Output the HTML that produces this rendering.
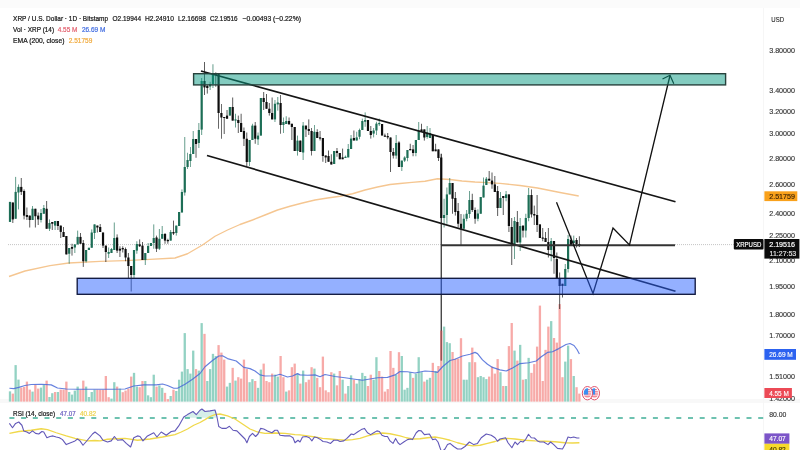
<!DOCTYPE html>
<html lang="en"><head><meta charset="utf-8"><title>XRP / U.S. Dollar chart</title>
<style>
html,body{margin:0;padding:0;background:#fff;}
body{width:800px;height:450px;overflow:hidden;}
svg{display:block;filter:blur(0.3px);}
text{font-family:"Liberation Sans",sans-serif;}
</style></head><body>
<svg width="800" height="450" viewBox="0 0 800 450">
<rect x="0" y="0" width="800" height="450" fill="#ffffff"/>
<rect x="0" y="0" width="800" height="8" fill="#fbfbfb"/>
<rect x="0" y="399" width="800" height="4" fill="#f8f8f8"/>
<rect x="763" y="8" width="1" height="442" fill="#f6f6f6"/>
<line x1="8" y1="244.6" x2="441" y2="244.6" stroke="#bdbdbd" stroke-width="0.9" stroke-dasharray="1 1"/>
<line x1="675" y1="244.6" x2="734" y2="244.6" stroke="#bdbdbd" stroke-width="0.9" stroke-dasharray="1 1"/>
<g id="vol">
<rect x="8.85" y="391.35" width="2.3" height="10.25" fill="#93d2c3"/>
<rect x="11.67" y="393.6" width="2.3" height="8" fill="#f7aaa8"/>
<rect x="14.49" y="365.1" width="2.3" height="36.5" fill="#93d2c3"/>
<rect x="17.31" y="379.6" width="2.3" height="22" fill="#93d2c3"/>
<rect x="20.12" y="387.6" width="2.3" height="14" fill="#f7aaa8"/>
<rect x="22.94" y="387" width="2.3" height="14.6" fill="#f7aaa8"/>
<rect x="25.76" y="381.6" width="2.3" height="20" fill="#f7aaa8"/>
<rect x="28.58" y="389.6" width="2.3" height="12" fill="#f7aaa8"/>
<rect x="31.4" y="391.6" width="2.3" height="10" fill="#93d2c3"/>
<rect x="34.22" y="384.6" width="2.3" height="17" fill="#f7aaa8"/>
<rect x="37.04" y="388.6" width="2.3" height="13" fill="#f7aaa8"/>
<rect x="39.86" y="387.6" width="2.3" height="14" fill="#93d2c3"/>
<rect x="42.67" y="384.6" width="2.3" height="17" fill="#93d2c3"/>
<rect x="45.49" y="380.6" width="2.3" height="21" fill="#f7aaa8"/>
<rect x="48.31" y="397" width="2.3" height="4.6" fill="#93d2c3"/>
<rect x="51.13" y="393.2" width="2.3" height="8.4" fill="#93d2c3"/>
<rect x="53.95" y="392" width="2.3" height="9.6" fill="#f7aaa8"/>
<rect x="56.77" y="392" width="2.3" height="9.6" fill="#93d2c3"/>
<rect x="59.59" y="389.6" width="2.3" height="12" fill="#f7aaa8"/>
<rect x="62.41" y="389.6" width="2.3" height="12" fill="#f7aaa8"/>
<rect x="65.22" y="381.6" width="2.3" height="20" fill="#f7aaa8"/>
<rect x="68.04" y="392" width="2.3" height="9.6" fill="#93d2c3"/>
<rect x="70.86" y="394.6" width="2.3" height="7" fill="#93d2c3"/>
<rect x="73.68" y="390.6" width="2.3" height="11" fill="#93d2c3"/>
<rect x="76.5" y="386.6" width="2.3" height="15" fill="#93d2c3"/>
<rect x="79.32" y="389.6" width="2.3" height="12" fill="#f7aaa8"/>
<rect x="82.14" y="380.6" width="2.3" height="21" fill="#f7aaa8"/>
<rect x="84.95" y="386.6" width="2.3" height="15" fill="#93d2c3"/>
<rect x="87.77" y="397" width="2.3" height="4.6" fill="#93d2c3"/>
<rect x="90.59" y="392" width="2.3" height="9.6" fill="#93d2c3"/>
<rect x="93.41" y="389.6" width="2.3" height="12" fill="#93d2c3"/>
<rect x="96.23" y="389.6" width="2.3" height="12" fill="#f7aaa8"/>
<rect x="99.05" y="389.7" width="2.3" height="11.9" fill="#f7aaa8"/>
<rect x="101.87" y="389.6" width="2.3" height="12" fill="#f7aaa8"/>
<rect x="104.69" y="376" width="2.3" height="25.6" fill="#f7aaa8"/>
<rect x="107.5" y="397.2" width="2.3" height="4.4" fill="#f7aaa8"/>
<rect x="110.32" y="398.6" width="2.3" height="3" fill="#93d2c3"/>
<rect x="113.14" y="382.2" width="2.3" height="19.4" fill="#93d2c3"/>
<rect x="115.96" y="386.6" width="2.3" height="15" fill="#f7aaa8"/>
<rect x="118.78" y="388.6" width="2.3" height="13" fill="#93d2c3"/>
<rect x="121.6" y="392.2" width="2.3" height="9.4" fill="#f7aaa8"/>
<rect x="124.42" y="390.6" width="2.3" height="11" fill="#f7aaa8"/>
<rect x="127.24" y="388.6" width="2.3" height="13" fill="#f7aaa8"/>
<rect x="130.05" y="376.6" width="2.3" height="25" fill="#f7aaa8"/>
<rect x="132.87" y="372.85" width="2.3" height="28.75" fill="#93d2c3"/>
<rect x="135.69" y="386.6" width="2.3" height="15" fill="#93d2c3"/>
<rect x="138.51" y="387.2" width="2.3" height="14.4" fill="#f7aaa8"/>
<rect x="141.33" y="381" width="2.3" height="20.6" fill="#f7aaa8"/>
<rect x="144.15" y="381" width="2.3" height="20.6" fill="#93d2c3"/>
<rect x="146.97" y="395.35" width="2.3" height="6.25" fill="#93d2c3"/>
<rect x="149.78" y="397.2" width="2.3" height="4.4" fill="#93d2c3"/>
<rect x="152.6" y="374.7" width="2.3" height="26.9" fill="#93d2c3"/>
<rect x="155.42" y="386.6" width="2.3" height="15" fill="#f7aaa8"/>
<rect x="158.24" y="385.35" width="2.3" height="16.25" fill="#93d2c3"/>
<rect x="161.06" y="387.85" width="2.3" height="13.75" fill="#93d2c3"/>
<rect x="163.88" y="392.85" width="2.3" height="8.75" fill="#f7aaa8"/>
<rect x="166.7" y="399.1" width="2.3" height="2.5" fill="#f7aaa8"/>
<rect x="169.52" y="396" width="2.3" height="5.6" fill="#93d2c3"/>
<rect x="172.33" y="389.7" width="2.3" height="11.9" fill="#f7aaa8"/>
<rect x="175.15" y="391" width="2.3" height="10.6" fill="#93d2c3"/>
<rect x="177.97" y="379.7" width="2.3" height="21.9" fill="#93d2c3"/>
<rect x="180.79" y="371.6" width="2.3" height="30" fill="#93d2c3"/>
<rect x="183.61" y="333.1" width="2.3" height="68.5" fill="#93d2c3"/>
<rect x="186.43" y="369.1" width="2.3" height="32.5" fill="#93d2c3"/>
<rect x="189.25" y="373.6" width="2.3" height="28" fill="#93d2c3"/>
<rect x="192.07" y="350.6" width="2.3" height="51" fill="#93d2c3"/>
<rect x="194.88" y="369.1" width="2.3" height="32.5" fill="#f7aaa8"/>
<rect x="197.7" y="370.6" width="2.3" height="31" fill="#93d2c3"/>
<rect x="200.52" y="323.1" width="2.3" height="78.5" fill="#93d2c3"/>
<rect x="203.34" y="333.85" width="2.3" height="67.75" fill="#f7aaa8"/>
<rect x="206.16" y="381" width="2.3" height="20.6" fill="#93d2c3"/>
<rect x="208.98" y="369.1" width="2.3" height="32.5" fill="#93d2c3"/>
<rect x="211.8" y="353.85" width="2.3" height="47.75" fill="#93d2c3"/>
<rect x="214.62" y="356.1" width="2.3" height="45.5" fill="#93d2c3"/>
<rect x="217.43" y="345.1" width="2.3" height="56.5" fill="#f7aaa8"/>
<rect x="220.25" y="352.6" width="2.3" height="49" fill="#f7aaa8"/>
<rect x="223.07" y="359.6" width="2.3" height="42" fill="#f7aaa8"/>
<rect x="225.89" y="386.6" width="2.3" height="15" fill="#93d2c3"/>
<rect x="228.71" y="382.85" width="2.3" height="18.75" fill="#93d2c3"/>
<rect x="231.53" y="367.85" width="2.3" height="33.75" fill="#f7aaa8"/>
<rect x="234.35" y="380.6" width="2.3" height="21" fill="#93d2c3"/>
<rect x="237.16" y="377.2" width="2.3" height="24.4" fill="#f7aaa8"/>
<rect x="239.98" y="378.6" width="2.3" height="23" fill="#f7aaa8"/>
<rect x="242.8" y="359.6" width="2.3" height="42" fill="#f7aaa8"/>
<rect x="245.62" y="369.1" width="2.3" height="32.5" fill="#f7aaa8"/>
<rect x="248.44" y="382.2" width="2.3" height="19.4" fill="#93d2c3"/>
<rect x="251.26" y="379.1" width="2.3" height="22.5" fill="#93d2c3"/>
<rect x="254.08" y="381" width="2.3" height="20.6" fill="#f7aaa8"/>
<rect x="256.9" y="387.85" width="2.3" height="13.75" fill="#93d2c3"/>
<rect x="259.71" y="369.6" width="2.3" height="32" fill="#93d2c3"/>
<rect x="262.53" y="363.6" width="2.3" height="38" fill="#f7aaa8"/>
<rect x="265.35" y="381" width="2.3" height="20.6" fill="#f7aaa8"/>
<rect x="268.17" y="382.2" width="2.3" height="19.4" fill="#f7aaa8"/>
<rect x="270.99" y="373.6" width="2.3" height="28" fill="#f7aaa8"/>
<rect x="273.81" y="374.6" width="2.3" height="27" fill="#93d2c3"/>
<rect x="276.63" y="376.6" width="2.3" height="25" fill="#93d2c3"/>
<rect x="279.45" y="356" width="2.3" height="45.6" fill="#f7aaa8"/>
<rect x="282.26" y="377.2" width="2.3" height="24.4" fill="#f7aaa8"/>
<rect x="285.08" y="391.6" width="2.3" height="10" fill="#93d2c3"/>
<rect x="287.9" y="390.35" width="2.3" height="11.25" fill="#f7aaa8"/>
<rect x="290.72" y="367.2" width="2.3" height="34.4" fill="#f7aaa8"/>
<rect x="293.54" y="363.6" width="2.3" height="38" fill="#f7aaa8"/>
<rect x="296.36" y="373.6" width="2.3" height="28" fill="#93d2c3"/>
<rect x="299.18" y="383.6" width="2.3" height="18" fill="#f7aaa8"/>
<rect x="301.99" y="370.6" width="2.3" height="31" fill="#93d2c3"/>
<rect x="304.81" y="382.2" width="2.3" height="19.4" fill="#f7aaa8"/>
<rect x="307.63" y="379.7" width="2.3" height="21.9" fill="#f7aaa8"/>
<rect x="310.45" y="367.2" width="2.3" height="34.4" fill="#f7aaa8"/>
<rect x="313.27" y="368.6" width="2.3" height="33" fill="#93d2c3"/>
<rect x="316.09" y="377.85" width="2.3" height="23.75" fill="#f7aaa8"/>
<rect x="318.91" y="387.2" width="2.3" height="14.4" fill="#f7aaa8"/>
<rect x="321.73" y="356.6" width="2.3" height="45" fill="#f7aaa8"/>
<rect x="324.54" y="390.35" width="2.3" height="11.25" fill="#f7aaa8"/>
<rect x="327.36" y="392.2" width="2.3" height="9.4" fill="#f7aaa8"/>
<rect x="330.18" y="372.2" width="2.3" height="29.4" fill="#f7aaa8"/>
<rect x="333" y="373.6" width="2.3" height="28" fill="#93d2c3"/>
<rect x="335.82" y="385.35" width="2.3" height="16.25" fill="#f7aaa8"/>
<rect x="338.64" y="371" width="2.3" height="30.6" fill="#f7aaa8"/>
<rect x="341.46" y="379.7" width="2.3" height="21.9" fill="#93d2c3"/>
<rect x="344.28" y="393.6" width="2.3" height="8" fill="#f7aaa8"/>
<rect x="347.09" y="386" width="2.3" height="15.6" fill="#93d2c3"/>
<rect x="349.91" y="375.35" width="2.3" height="26.25" fill="#93d2c3"/>
<rect x="352.73" y="379.7" width="2.3" height="21.9" fill="#f7aaa8"/>
<rect x="355.55" y="383.6" width="2.3" height="18" fill="#93d2c3"/>
<rect x="358.37" y="379.1" width="2.3" height="22.5" fill="#93d2c3"/>
<rect x="361.19" y="372.85" width="2.3" height="28.75" fill="#93d2c3"/>
<rect x="364.01" y="376" width="2.3" height="25.6" fill="#93d2c3"/>
<rect x="366.82" y="386" width="2.3" height="15.6" fill="#f7aaa8"/>
<rect x="369.64" y="374.7" width="2.3" height="26.9" fill="#f7aaa8"/>
<rect x="372.46" y="379.7" width="2.3" height="21.9" fill="#93d2c3"/>
<rect x="375.28" y="357.2" width="2.3" height="44.4" fill="#93d2c3"/>
<rect x="378.1" y="371" width="2.3" height="30.6" fill="#f7aaa8"/>
<rect x="380.92" y="376.6" width="2.3" height="25" fill="#f7aaa8"/>
<rect x="383.74" y="391.6" width="2.3" height="10" fill="#f7aaa8"/>
<rect x="386.56" y="389.1" width="2.3" height="12.5" fill="#f7aaa8"/>
<rect x="389.37" y="351" width="2.3" height="50.6" fill="#f7aaa8"/>
<rect x="392.19" y="367.85" width="2.3" height="33.75" fill="#f7aaa8"/>
<rect x="395.01" y="374.7" width="2.3" height="26.9" fill="#93d2c3"/>
<rect x="397.83" y="352.2" width="2.3" height="49.4" fill="#f7aaa8"/>
<rect x="400.65" y="356" width="2.3" height="45.6" fill="#93d2c3"/>
<rect x="403.47" y="389.7" width="2.3" height="11.9" fill="#93d2c3"/>
<rect x="406.29" y="387.85" width="2.3" height="13.75" fill="#93d2c3"/>
<rect x="409.11" y="372.2" width="2.3" height="29.4" fill="#93d2c3"/>
<rect x="411.92" y="377.85" width="2.3" height="23.75" fill="#f7aaa8"/>
<rect x="414.74" y="373.6" width="2.3" height="28" fill="#93d2c3"/>
<rect x="417.56" y="357.2" width="2.3" height="44.4" fill="#93d2c3"/>
<rect x="420.38" y="372.2" width="2.3" height="29.4" fill="#93d2c3"/>
<rect x="423.2" y="381.6" width="2.3" height="20" fill="#f7aaa8"/>
<rect x="426.02" y="379.7" width="2.3" height="21.9" fill="#93d2c3"/>
<rect x="428.84" y="377.85" width="2.3" height="23.75" fill="#93d2c3"/>
<rect x="431.66" y="362.85" width="2.3" height="38.75" fill="#f7aaa8"/>
<rect x="434.47" y="371" width="2.3" height="30.6" fill="#93d2c3"/>
<rect x="437.29" y="366" width="2.3" height="35.6" fill="#f7aaa8"/>
<rect x="440.11" y="330.6" width="2.3" height="71" fill="#f7aaa8"/>
<rect x="442.93" y="326.6" width="2.3" height="75" fill="#93d2c3"/>
<rect x="445.75" y="342.1" width="2.3" height="59.5" fill="#93d2c3"/>
<rect x="448.57" y="343.2" width="2.3" height="58.4" fill="#93d2c3"/>
<rect x="451.39" y="352" width="2.3" height="49.6" fill="#f7aaa8"/>
<rect x="454.2" y="358.6" width="2.3" height="43" fill="#f7aaa8"/>
<rect x="457.02" y="358.6" width="2.3" height="43" fill="#f7aaa8"/>
<rect x="459.84" y="338.2" width="2.3" height="63.4" fill="#f7aaa8"/>
<rect x="462.66" y="379.7" width="2.3" height="21.9" fill="#93d2c3"/>
<rect x="465.48" y="379.7" width="2.3" height="21.9" fill="#93d2c3"/>
<rect x="468.3" y="362.2" width="2.3" height="39.4" fill="#93d2c3"/>
<rect x="471.12" y="347.6" width="2.3" height="54" fill="#f7aaa8"/>
<rect x="473.94" y="362.2" width="2.3" height="39.4" fill="#f7aaa8"/>
<rect x="476.75" y="377.2" width="2.3" height="24.4" fill="#93d2c3"/>
<rect x="479.57" y="376" width="2.3" height="25.6" fill="#93d2c3"/>
<rect x="482.39" y="377.2" width="2.3" height="24.4" fill="#93d2c3"/>
<rect x="485.21" y="379.1" width="2.3" height="22.5" fill="#93d2c3"/>
<rect x="488.03" y="376.6" width="2.3" height="25" fill="#f7aaa8"/>
<rect x="490.85" y="366.6" width="2.3" height="35" fill="#f7aaa8"/>
<rect x="493.67" y="373.6" width="2.3" height="28" fill="#f7aaa8"/>
<rect x="496.49" y="359.1" width="2.3" height="42.5" fill="#f7aaa8"/>
<rect x="499.3" y="372.2" width="2.3" height="29.4" fill="#93d2c3"/>
<rect x="502.12" y="386" width="2.3" height="15.6" fill="#f7aaa8"/>
<rect x="504.94" y="386" width="2.3" height="15.6" fill="#93d2c3"/>
<rect x="507.76" y="346.1" width="2.3" height="55.5" fill="#f7aaa8"/>
<rect x="510.58" y="323" width="2.3" height="78.6" fill="#f7aaa8"/>
<rect x="513.4" y="350.6" width="2.3" height="51" fill="#93d2c3"/>
<rect x="516.22" y="360.6" width="2.3" height="41" fill="#f7aaa8"/>
<rect x="519.03" y="344.85" width="2.3" height="56.75" fill="#93d2c3"/>
<rect x="521.85" y="379.7" width="2.3" height="21.9" fill="#f7aaa8"/>
<rect x="524.67" y="379.1" width="2.3" height="22.5" fill="#93d2c3"/>
<rect x="527.49" y="357.85" width="2.3" height="43.75" fill="#93d2c3"/>
<rect x="530.31" y="372.85" width="2.3" height="28.75" fill="#f7aaa8"/>
<rect x="533.13" y="364.1" width="2.3" height="37.5" fill="#f7aaa8"/>
<rect x="535.95" y="346.6" width="2.3" height="55" fill="#f7aaa8"/>
<rect x="538.77" y="305.6" width="2.3" height="96" fill="#f7aaa8"/>
<rect x="541.58" y="381" width="2.3" height="20.6" fill="#f7aaa8"/>
<rect x="544.4" y="349.85" width="2.3" height="51.75" fill="#f7aaa8"/>
<rect x="547.22" y="326.6" width="2.3" height="75" fill="#f7aaa8"/>
<rect x="550.04" y="321.1" width="2.3" height="80.5" fill="#93d2c3"/>
<rect x="552.86" y="338" width="2.3" height="63.6" fill="#f7aaa8"/>
<rect x="555.68" y="342.6" width="2.3" height="59" fill="#f7aaa8"/>
<rect x="558.5" y="304.1" width="2.3" height="97.5" fill="#f7aaa8"/>
<rect x="561.32" y="377.2" width="2.3" height="24.4" fill="#f7aaa8"/>
<rect x="564.13" y="361.6" width="2.3" height="40" fill="#93d2c3"/>
<rect x="566.95" y="345.6" width="2.3" height="56" fill="#93d2c3"/>
<rect x="569.77" y="359.1" width="2.3" height="42.5" fill="#f7aaa8"/>
<rect x="572.59" y="376" width="2.3" height="25.6" fill="#93d2c3"/>
<rect x="575.41" y="387.2" width="2.3" height="14.4" fill="#f7aaa8"/>
<rect x="578.23" y="393.6" width="2.3" height="8" fill="#f7aaa8"/>
</g>
<polyline points="9.4,388.25 13.75,388.6 18.75,387.4 25,385.5 31.25,384.5 41.25,384.25 51.25,384.9 57.5,388 66.25,389 77.5,389.25 100,389.25 112.5,389.25 125,389 133.75,386 143.75,384.9 156.25,384.9 162.5,384 167.5,385.5 173.75,388.25 177.5,388.25 185,384.25 192.5,379.25 200,373.5 205,366.75 212.5,360.5 218.75,356 222.5,355.75 227.5,358.6 236.25,361 243.75,367.4 250,368.6 255,371 260,374.9 265,376 275,375.75 280,374.25 287.5,377 292.5,376 297.5,373.6 300,374.9 307.5,375.25 315,374.9 320,376.75 325,374.5 335,376.5 345,377.75 355,379.25 362.5,380.25 370,379 377.5,377.75 387.5,377.4 395,374.9 400,371.5 407.5,371.75 415,373 425,371 432.5,371.5 437.5,372.4 442.5,366.75 450,360.5 455,359.25 462.5,356 470,354.25 475,352.4 477.5,353.6 482.5,359.9 487.5,364.25 492.5,367.4 500,369.9 506.25,371 512.5,368 520,363.6 528.75,362.75 536.25,361 541.25,356.75 547.5,352.4 552.5,351.75 558.75,348.6 562.5,346.5 566,344.5 570,343.5 574,345.5 577,349.5 579.4,354" fill="none" stroke="#4a6ad8" stroke-width="1.2" opacity="0.85" stroke-linejoin="round"/>
<polyline points="9,276.5 25,271 50,265.6 68.75,263 100,261.4 125,260.6 150,259.4 175,258 187.5,253.75 202.5,245 215,236.25 227.5,230 240,224.5 252.5,220 265,215 277.5,210 290,206.25 302.5,203 315,200 327.5,198 340,196.25 352.5,193.75 365,190 377.5,187 390,184.5 400,183.5 412,182.3 425,181.25 437.5,178.75 450,179.5 462,181 475,182 487,182.6 500,183.3 520,185.5 537.5,188 560,192.5 578.75,196" fill="none" stroke="#f5c691" stroke-width="1.35" stroke-linejoin="round"/>
<g id="candles">
<line x1="10" y1="201.9" x2="10" y2="221.9" stroke="#1d6e56" stroke-width="0.8" opacity="0.85"/>
<rect x="8.9" y="201.9" width="2.2" height="20" fill="#1d6e56"/>
<line x1="12.82" y1="202.5" x2="12.82" y2="223" stroke="#0d0d0d" stroke-width="0.8" opacity="0.85"/>
<rect x="11.72" y="202.5" width="2.2" height="16.9" fill="#0d0d0d"/>
<line x1="15.64" y1="176.9" x2="15.64" y2="218.75" stroke="#1d6e56" stroke-width="0.8" opacity="0.85"/>
<rect x="14.54" y="191.9" width="2.2" height="26.85" fill="#1d6e56"/>
<line x1="18.46" y1="184.4" x2="18.46" y2="209.4" stroke="#1d6e56" stroke-width="0.8" opacity="0.85"/>
<rect x="17.36" y="186.9" width="2.2" height="5.6" fill="#1d6e56"/>
<line x1="21.27" y1="178" x2="21.27" y2="195" stroke="#0d0d0d" stroke-width="0.8" opacity="0.85"/>
<rect x="20.17" y="186.9" width="2.2" height="5" fill="#0d0d0d"/>
<line x1="24.09" y1="189.4" x2="24.09" y2="219.4" stroke="#0d0d0d" stroke-width="0.8" opacity="0.85"/>
<rect x="22.99" y="191" width="2.2" height="24.6" fill="#0d0d0d"/>
<line x1="26.91" y1="207.5" x2="26.91" y2="220" stroke="#0d0d0d" stroke-width="0.8" opacity="0.85"/>
<rect x="25.81" y="215" width="2.2" height="1.9" fill="#0d0d0d"/>
<line x1="29.73" y1="215.6" x2="29.73" y2="227.5" stroke="#0d0d0d" stroke-width="0.8" opacity="0.85"/>
<rect x="28.63" y="215.6" width="2.2" height="4.4" fill="#0d0d0d"/>
<line x1="32.55" y1="206" x2="32.55" y2="220" stroke="#1d6e56" stroke-width="0.8" opacity="0.85"/>
<rect x="31.45" y="208.75" width="2.2" height="11.25" fill="#1d6e56"/>
<line x1="35.37" y1="208.75" x2="35.37" y2="227.5" stroke="#0d0d0d" stroke-width="0.8" opacity="0.85"/>
<rect x="34.27" y="208.75" width="2.2" height="7.5" fill="#0d0d0d"/>
<line x1="38.19" y1="212.5" x2="38.19" y2="225" stroke="#0d0d0d" stroke-width="0.8" opacity="0.85"/>
<rect x="37.09" y="215.6" width="2.2" height="3.8" fill="#0d0d0d"/>
<line x1="41.01" y1="209" x2="41.01" y2="222.5" stroke="#1d6e56" stroke-width="0.8" opacity="0.85"/>
<rect x="39.91" y="213" width="2.2" height="7" fill="#1d6e56"/>
<line x1="43.82" y1="205" x2="43.82" y2="213.75" stroke="#1d6e56" stroke-width="0.8" opacity="0.85"/>
<rect x="42.72" y="208" width="2.2" height="5.75" fill="#1d6e56"/>
<line x1="46.64" y1="201" x2="46.64" y2="228.75" stroke="#0d0d0d" stroke-width="0.8" opacity="0.85"/>
<rect x="45.54" y="208.75" width="2.2" height="20" fill="#0d0d0d"/>
<line x1="49.46" y1="219.4" x2="49.46" y2="231" stroke="#1d6e56" stroke-width="0.8" opacity="0.85"/>
<rect x="48.36" y="223" width="2.2" height="5.75" fill="#1d6e56"/>
<line x1="52.28" y1="222" x2="52.28" y2="230" stroke="#0d0d0d" stroke-width="0.8" opacity="0.85"/>
<rect x="51.18" y="222" width="2.2" height="1.75" fill="#0d0d0d"/>
<line x1="55.1" y1="221" x2="55.1" y2="230" stroke="#1d6e56" stroke-width="0.8" opacity="0.85"/>
<rect x="54" y="221" width="2.2" height="4.6" fill="#1d6e56"/>
<line x1="57.92" y1="221" x2="57.92" y2="230" stroke="#0d0d0d" stroke-width="0.8" opacity="0.85"/>
<rect x="56.82" y="221" width="2.2" height="5" fill="#0d0d0d"/>
<line x1="60.74" y1="225.6" x2="60.74" y2="238" stroke="#0d0d0d" stroke-width="0.8" opacity="0.85"/>
<rect x="59.64" y="225.6" width="2.2" height="6.3" fill="#0d0d0d"/>
<line x1="63.56" y1="227" x2="63.56" y2="237" stroke="#0d0d0d" stroke-width="0.8" opacity="0.85"/>
<rect x="62.46" y="232" width="2.2" height="5" fill="#0d0d0d"/>
<line x1="66.37" y1="236" x2="66.37" y2="254.4" stroke="#0d0d0d" stroke-width="0.8" opacity="0.85"/>
<rect x="65.27" y="236" width="2.2" height="18.4" fill="#0d0d0d"/>
<line x1="69.19" y1="248" x2="69.19" y2="263.75" stroke="#1d6e56" stroke-width="0.8" opacity="0.85"/>
<rect x="68.09" y="248" width="2.2" height="5.75" fill="#1d6e56"/>
<line x1="72.01" y1="243.75" x2="72.01" y2="255.6" stroke="#0d0d0d" stroke-width="0.8" opacity="0.85"/>
<rect x="70.91" y="247" width="2.2" height="1.75" fill="#0d0d0d"/>
<line x1="74.83" y1="244.4" x2="74.83" y2="253" stroke="#1d6e56" stroke-width="0.8" opacity="0.85"/>
<rect x="73.73" y="244.4" width="2.2" height="3.1" fill="#1d6e56"/>
<line x1="77.65" y1="230.6" x2="77.65" y2="244.4" stroke="#1d6e56" stroke-width="0.8" opacity="0.85"/>
<rect x="76.55" y="236.9" width="2.2" height="7.5" fill="#1d6e56"/>
<line x1="80.47" y1="233" x2="80.47" y2="243.75" stroke="#0d0d0d" stroke-width="0.8" opacity="0.85"/>
<rect x="79.37" y="236.9" width="2.2" height="6.85" fill="#0d0d0d"/>
<line x1="83.29" y1="240" x2="83.29" y2="266.9" stroke="#0d0d0d" stroke-width="0.8" opacity="0.85"/>
<rect x="82.19" y="243" width="2.2" height="18.25" fill="#0d0d0d"/>
<line x1="86.1" y1="250" x2="86.1" y2="262.5" stroke="#1d6e56" stroke-width="0.8" opacity="0.85"/>
<rect x="85" y="250" width="2.2" height="11.25" fill="#1d6e56"/>
<line x1="88.92" y1="247.75" x2="88.92" y2="250" stroke="#1d6e56" stroke-width="0.8" opacity="0.85"/>
<rect x="87.82" y="247.75" width="2.2" height="2.25" fill="#1d6e56"/>
<line x1="91.74" y1="229.4" x2="91.74" y2="247.75" stroke="#1d6e56" stroke-width="0.8" opacity="0.85"/>
<rect x="90.64" y="232.5" width="2.2" height="15.25" fill="#1d6e56"/>
<line x1="94.56" y1="224.4" x2="94.56" y2="239" stroke="#1d6e56" stroke-width="0.8" opacity="0.85"/>
<rect x="93.46" y="224.4" width="2.2" height="8.6" fill="#1d6e56"/>
<line x1="97.38" y1="225.6" x2="97.38" y2="232.5" stroke="#0d0d0d" stroke-width="0.8" opacity="0.85"/>
<rect x="96.28" y="225.6" width="2.2" height="1.9" fill="#0d0d0d"/>
<line x1="100.2" y1="224" x2="100.2" y2="232" stroke="#0d0d0d" stroke-width="0.8" opacity="0.85"/>
<rect x="99.1" y="227" width="2.2" height="5" fill="#0d0d0d"/>
<line x1="103.02" y1="232.5" x2="103.02" y2="248" stroke="#0d0d0d" stroke-width="0.8" opacity="0.85"/>
<rect x="101.92" y="232.5" width="2.2" height="13.1" fill="#0d0d0d"/>
<line x1="105.84" y1="245.6" x2="105.84" y2="262" stroke="#0d0d0d" stroke-width="0.8" opacity="0.85"/>
<rect x="104.74" y="245.6" width="2.2" height="6.4" fill="#0d0d0d"/>
<line x1="108.65" y1="247.5" x2="108.65" y2="258" stroke="#1d6e56" stroke-width="0.8" opacity="0.85"/>
<rect x="107.55" y="252" width="2.2" height="1.75" fill="#1d6e56"/>
<line x1="111.47" y1="248" x2="111.47" y2="253" stroke="#1d6e56" stroke-width="0.8" opacity="0.85"/>
<rect x="110.37" y="249" width="2.2" height="4" fill="#1d6e56"/>
<line x1="114.29" y1="222.5" x2="114.29" y2="250" stroke="#1d6e56" stroke-width="0.8" opacity="0.85"/>
<rect x="113.19" y="238" width="2.2" height="12" fill="#1d6e56"/>
<line x1="117.11" y1="234.4" x2="117.11" y2="253" stroke="#0d0d0d" stroke-width="0.8" opacity="0.85"/>
<rect x="116.01" y="237.5" width="2.2" height="13.1" fill="#0d0d0d"/>
<line x1="119.93" y1="246.25" x2="119.93" y2="257" stroke="#0d0d0d" stroke-width="0.8" opacity="0.85"/>
<rect x="118.83" y="248.75" width="2.2" height="1.85" fill="#0d0d0d"/>
<line x1="122.75" y1="246.25" x2="122.75" y2="252.5" stroke="#0d0d0d" stroke-width="0.8" opacity="0.85"/>
<rect x="121.65" y="248" width="2.2" height="1.4" fill="#0d0d0d"/>
<line x1="125.57" y1="247.5" x2="125.57" y2="261.25" stroke="#0d0d0d" stroke-width="0.8" opacity="0.85"/>
<rect x="124.47" y="249" width="2.2" height="8.5" fill="#0d0d0d"/>
<line x1="128.39" y1="253" x2="128.39" y2="278" stroke="#0d0d0d" stroke-width="0.8" opacity="0.85"/>
<rect x="127.29" y="257.5" width="2.2" height="8.5" fill="#0d0d0d"/>
<line x1="131.2" y1="266" x2="131.2" y2="291.5" stroke="#0d0d0d" stroke-width="0.8" opacity="0.85"/>
<rect x="130.1" y="266" width="2.2" height="9" fill="#0d0d0d"/>
<line x1="134.02" y1="250" x2="134.02" y2="279" stroke="#1d6e56" stroke-width="0.8" opacity="0.85"/>
<rect x="132.92" y="250" width="2.2" height="25" fill="#1d6e56"/>
<line x1="136.84" y1="241.25" x2="136.84" y2="253.75" stroke="#1d6e56" stroke-width="0.8" opacity="0.85"/>
<rect x="135.74" y="244" width="2.2" height="6.6" fill="#1d6e56"/>
<line x1="139.66" y1="239.4" x2="139.66" y2="247" stroke="#0d0d0d" stroke-width="0.8" opacity="0.85"/>
<rect x="138.56" y="244.4" width="2.2" height="1.85" fill="#0d0d0d"/>
<line x1="142.48" y1="242" x2="142.48" y2="260" stroke="#0d0d0d" stroke-width="0.8" opacity="0.85"/>
<rect x="141.38" y="245.6" width="2.2" height="14.4" fill="#0d0d0d"/>
<line x1="145.3" y1="253" x2="145.3" y2="265" stroke="#1d6e56" stroke-width="0.8" opacity="0.85"/>
<rect x="144.2" y="253" width="2.2" height="7" fill="#1d6e56"/>
<line x1="148.12" y1="243" x2="148.12" y2="253" stroke="#1d6e56" stroke-width="0.8" opacity="0.85"/>
<rect x="147.02" y="246" width="2.2" height="7" fill="#1d6e56"/>
<line x1="150.94" y1="243" x2="150.94" y2="246" stroke="#1d6e56" stroke-width="0.8" opacity="0.85"/>
<rect x="149.84" y="243" width="2.2" height="3" fill="#1d6e56"/>
<line x1="153.75" y1="224.4" x2="153.75" y2="248.75" stroke="#1d6e56" stroke-width="0.8" opacity="0.85"/>
<rect x="152.65" y="238" width="2.2" height="5" fill="#1d6e56"/>
<line x1="156.57" y1="235.6" x2="156.57" y2="252" stroke="#0d0d0d" stroke-width="0.8" opacity="0.85"/>
<rect x="155.47" y="237.5" width="2.2" height="11.25" fill="#0d0d0d"/>
<line x1="159.39" y1="229" x2="159.39" y2="250" stroke="#1d6e56" stroke-width="0.8" opacity="0.85"/>
<rect x="158.29" y="238.75" width="2.2" height="10" fill="#1d6e56"/>
<line x1="162.21" y1="226" x2="162.21" y2="238.75" stroke="#1d6e56" stroke-width="0.8" opacity="0.85"/>
<rect x="161.11" y="234" width="2.2" height="4.75" fill="#1d6e56"/>
<line x1="165.03" y1="233" x2="165.03" y2="243.75" stroke="#0d0d0d" stroke-width="0.8" opacity="0.85"/>
<rect x="163.93" y="234" width="2.2" height="6.6" fill="#0d0d0d"/>
<line x1="167.85" y1="238.75" x2="167.85" y2="243.75" stroke="#0d0d0d" stroke-width="0.8" opacity="0.85"/>
<rect x="166.75" y="240" width="2.2" height="1.25" fill="#0d0d0d"/>
<line x1="170.67" y1="230" x2="170.67" y2="240.6" stroke="#1d6e56" stroke-width="0.8" opacity="0.85"/>
<rect x="169.57" y="232" width="2.2" height="8.6" fill="#1d6e56"/>
<line x1="173.48" y1="220.6" x2="173.48" y2="235" stroke="#0d0d0d" stroke-width="0.8" opacity="0.85"/>
<rect x="172.38" y="232" width="2.2" height="1.5" fill="#0d0d0d"/>
<line x1="176.3" y1="225.6" x2="176.3" y2="235.6" stroke="#1d6e56" stroke-width="0.8" opacity="0.85"/>
<rect x="175.2" y="225.6" width="2.2" height="7.4" fill="#1d6e56"/>
<line x1="179.12" y1="212" x2="179.12" y2="226" stroke="#1d6e56" stroke-width="0.8" opacity="0.85"/>
<rect x="178.02" y="212" width="2.2" height="14" fill="#1d6e56"/>
<line x1="181.94" y1="189.4" x2="181.94" y2="212.5" stroke="#1d6e56" stroke-width="0.8" opacity="0.85"/>
<rect x="180.84" y="192" width="2.2" height="20.5" fill="#1d6e56"/>
<line x1="184.76" y1="137" x2="184.76" y2="195.6" stroke="#1d6e56" stroke-width="0.8" opacity="0.85"/>
<rect x="183.66" y="167" width="2.2" height="25.5" fill="#1d6e56"/>
<line x1="187.58" y1="152.75" x2="187.58" y2="169" stroke="#1d6e56" stroke-width="0.8" opacity="0.85"/>
<rect x="186.48" y="160" width="2.2" height="7" fill="#1d6e56"/>
<line x1="190.4" y1="147" x2="190.4" y2="167" stroke="#1d6e56" stroke-width="0.8" opacity="0.85"/>
<rect x="189.3" y="154" width="2.2" height="7" fill="#1d6e56"/>
<line x1="193.22" y1="131" x2="193.22" y2="154" stroke="#1d6e56" stroke-width="0.8" opacity="0.85"/>
<rect x="192.12" y="139" width="2.2" height="15" fill="#1d6e56"/>
<line x1="196.03" y1="139" x2="196.03" y2="157.75" stroke="#0d0d0d" stroke-width="0.8" opacity="0.85"/>
<rect x="194.93" y="139" width="2.2" height="5" fill="#0d0d0d"/>
<line x1="198.85" y1="123" x2="198.85" y2="148" stroke="#1d6e56" stroke-width="0.8" opacity="0.85"/>
<rect x="197.75" y="130" width="2.2" height="13" fill="#1d6e56"/>
<line x1="201.67" y1="78" x2="201.67" y2="135" stroke="#1d6e56" stroke-width="0.8" opacity="0.85"/>
<rect x="200.57" y="81" width="2.2" height="48.6" fill="#1d6e56"/>
<line x1="204.49" y1="62" x2="204.49" y2="95" stroke="#0d0d0d" stroke-width="0.8" opacity="0.85"/>
<rect x="203.39" y="81" width="2.2" height="6.4" fill="#0d0d0d"/>
<line x1="207.31" y1="84.9" x2="207.31" y2="93.6" stroke="#0d0d0d" stroke-width="0.8" opacity="0.85"/>
<rect x="206.21" y="86" width="2.2" height="2" fill="#0d0d0d"/>
<line x1="210.13" y1="81.75" x2="210.13" y2="90" stroke="#1d6e56" stroke-width="0.8" opacity="0.85"/>
<rect x="209.03" y="84" width="2.2" height="2.5" fill="#1d6e56"/>
<line x1="212.95" y1="64.25" x2="212.95" y2="88" stroke="#1d6e56" stroke-width="0.8" opacity="0.85"/>
<rect x="211.85" y="74.25" width="2.2" height="9.75" fill="#1d6e56"/>
<line x1="215.77" y1="72.4" x2="215.77" y2="86.75" stroke="#0d0d0d" stroke-width="0.8" opacity="0.85"/>
<rect x="214.67" y="74" width="2.2" height="1" fill="#0d0d0d"/>
<line x1="218.58" y1="74" x2="218.58" y2="128.75" stroke="#0d0d0d" stroke-width="0.8" opacity="0.85"/>
<rect x="217.48" y="74" width="2.2" height="39" fill="#0d0d0d"/>
<line x1="221.4" y1="104" x2="221.4" y2="138.75" stroke="#0d0d0d" stroke-width="0.8" opacity="0.85"/>
<rect x="220.3" y="113" width="2.2" height="4.5" fill="#0d0d0d"/>
<line x1="224.22" y1="117" x2="224.22" y2="134" stroke="#0d0d0d" stroke-width="0.8" opacity="0.85"/>
<rect x="223.12" y="117" width="2.2" height="1" fill="#0d0d0d"/>
<line x1="227.04" y1="110" x2="227.04" y2="118.75" stroke="#0d0d0d" stroke-width="0.8" opacity="0.85"/>
<rect x="225.94" y="115.6" width="2.2" height="3.15" fill="#0d0d0d"/>
<line x1="229.86" y1="107" x2="229.86" y2="115.6" stroke="#1d6e56" stroke-width="0.8" opacity="0.85"/>
<rect x="228.76" y="107" width="2.2" height="8.6" fill="#1d6e56"/>
<line x1="232.68" y1="97.5" x2="232.68" y2="120.6" stroke="#0d0d0d" stroke-width="0.8" opacity="0.85"/>
<rect x="231.58" y="107" width="2.2" height="13.6" fill="#0d0d0d"/>
<line x1="235.5" y1="113.75" x2="235.5" y2="127.5" stroke="#1d6e56" stroke-width="0.8" opacity="0.85"/>
<rect x="234.4" y="119.4" width="2.2" height="1.2" fill="#1d6e56"/>
<line x1="238.31" y1="115.6" x2="238.31" y2="133" stroke="#0d0d0d" stroke-width="0.8" opacity="0.85"/>
<rect x="237.21" y="120" width="2.2" height="3" fill="#0d0d0d"/>
<line x1="241.13" y1="113.75" x2="241.13" y2="132" stroke="#0d0d0d" stroke-width="0.8" opacity="0.85"/>
<rect x="240.03" y="123" width="2.2" height="9" fill="#0d0d0d"/>
<line x1="243.95" y1="127.5" x2="243.95" y2="146" stroke="#0d0d0d" stroke-width="0.8" opacity="0.85"/>
<rect x="242.85" y="131" width="2.2" height="7.75" fill="#0d0d0d"/>
<line x1="246.77" y1="132.5" x2="246.77" y2="166" stroke="#0d0d0d" stroke-width="0.8" opacity="0.85"/>
<rect x="245.67" y="138.75" width="2.2" height="23.25" fill="#0d0d0d"/>
<line x1="249.59" y1="140" x2="249.59" y2="166" stroke="#1d6e56" stroke-width="0.8" opacity="0.85"/>
<rect x="248.49" y="140" width="2.2" height="22" fill="#1d6e56"/>
<line x1="252.41" y1="123.75" x2="252.41" y2="140" stroke="#1d6e56" stroke-width="0.8" opacity="0.85"/>
<rect x="251.31" y="125.6" width="2.2" height="14.4" fill="#1d6e56"/>
<line x1="255.23" y1="122" x2="255.23" y2="143.75" stroke="#0d0d0d" stroke-width="0.8" opacity="0.85"/>
<rect x="254.13" y="125.6" width="2.2" height="13.15" fill="#0d0d0d"/>
<line x1="258.05" y1="132.5" x2="258.05" y2="145" stroke="#1d6e56" stroke-width="0.8" opacity="0.85"/>
<rect x="256.95" y="135.6" width="2.2" height="3.8" fill="#1d6e56"/>
<line x1="260.86" y1="98" x2="260.86" y2="135.6" stroke="#1d6e56" stroke-width="0.8" opacity="0.85"/>
<rect x="259.76" y="98" width="2.2" height="37.6" fill="#1d6e56"/>
<line x1="263.68" y1="92" x2="263.68" y2="110" stroke="#0d0d0d" stroke-width="0.8" opacity="0.85"/>
<rect x="262.58" y="98" width="2.2" height="4" fill="#0d0d0d"/>
<line x1="266.5" y1="94" x2="266.5" y2="108.75" stroke="#0d0d0d" stroke-width="0.8" opacity="0.85"/>
<rect x="265.4" y="102" width="2.2" height="6.75" fill="#0d0d0d"/>
<line x1="269.32" y1="103" x2="269.32" y2="115.6" stroke="#0d0d0d" stroke-width="0.8" opacity="0.85"/>
<rect x="268.22" y="108.75" width="2.2" height="4.25" fill="#0d0d0d"/>
<line x1="272.14" y1="97.5" x2="272.14" y2="119.4" stroke="#0d0d0d" stroke-width="0.8" opacity="0.85"/>
<rect x="271.04" y="113" width="2.2" height="6.4" fill="#0d0d0d"/>
<line x1="274.96" y1="100" x2="274.96" y2="122" stroke="#1d6e56" stroke-width="0.8" opacity="0.85"/>
<rect x="273.86" y="103.75" width="2.2" height="15.65" fill="#1d6e56"/>
<line x1="277.78" y1="97" x2="277.78" y2="110.6" stroke="#1d6e56" stroke-width="0.8" opacity="0.85"/>
<rect x="276.68" y="102.5" width="2.2" height="1.9" fill="#1d6e56"/>
<line x1="280.6" y1="95" x2="280.6" y2="133.75" stroke="#0d0d0d" stroke-width="0.8" opacity="0.85"/>
<rect x="279.5" y="103" width="2.2" height="22" fill="#0d0d0d"/>
<line x1="283.41" y1="117.5" x2="283.41" y2="133" stroke="#1d6e56" stroke-width="0.8" opacity="0.85"/>
<rect x="282.31" y="122" width="2.2" height="3" fill="#1d6e56"/>
<line x1="286.23" y1="116.25" x2="286.23" y2="124" stroke="#1d6e56" stroke-width="0.8" opacity="0.85"/>
<rect x="285.13" y="121" width="2.2" height="3" fill="#1d6e56"/>
<line x1="289.05" y1="117.5" x2="289.05" y2="124.4" stroke="#0d0d0d" stroke-width="0.8" opacity="0.85"/>
<rect x="287.95" y="121" width="2.2" height="3.4" fill="#0d0d0d"/>
<line x1="291.87" y1="123.75" x2="291.87" y2="140" stroke="#0d0d0d" stroke-width="0.8" opacity="0.85"/>
<rect x="290.77" y="123.75" width="2.2" height="3.25" fill="#0d0d0d"/>
<line x1="294.69" y1="127" x2="294.69" y2="151" stroke="#0d0d0d" stroke-width="0.8" opacity="0.85"/>
<rect x="293.59" y="127" width="2.2" height="24" fill="#0d0d0d"/>
<line x1="297.51" y1="135.6" x2="297.51" y2="155.6" stroke="#1d6e56" stroke-width="0.8" opacity="0.85"/>
<rect x="296.41" y="140.6" width="2.2" height="10.4" fill="#1d6e56"/>
<line x1="300.33" y1="140.6" x2="300.33" y2="152" stroke="#0d0d0d" stroke-width="0.8" opacity="0.85"/>
<rect x="299.23" y="140.6" width="2.2" height="11.4" fill="#0d0d0d"/>
<line x1="303.14" y1="122" x2="303.14" y2="160" stroke="#1d6e56" stroke-width="0.8" opacity="0.85"/>
<rect x="302.04" y="125.6" width="2.2" height="26.9" fill="#1d6e56"/>
<line x1="305.96" y1="125.6" x2="305.96" y2="137" stroke="#0d0d0d" stroke-width="0.8" opacity="0.85"/>
<rect x="304.86" y="125.6" width="2.2" height="3.8" fill="#0d0d0d"/>
<line x1="308.78" y1="119.4" x2="308.78" y2="135" stroke="#0d0d0d" stroke-width="0.8" opacity="0.85"/>
<rect x="307.68" y="129" width="2.2" height="2" fill="#0d0d0d"/>
<line x1="311.6" y1="128" x2="311.6" y2="155.5" stroke="#0d0d0d" stroke-width="0.8" opacity="0.85"/>
<rect x="310.5" y="131" width="2.2" height="20" fill="#0d0d0d"/>
<line x1="314.42" y1="125" x2="314.42" y2="151" stroke="#1d6e56" stroke-width="0.8" opacity="0.85"/>
<rect x="313.32" y="131.75" width="2.2" height="19.25" fill="#1d6e56"/>
<line x1="317.24" y1="129.25" x2="317.24" y2="138" stroke="#0d0d0d" stroke-width="0.8" opacity="0.85"/>
<rect x="316.14" y="132" width="2.2" height="6" fill="#0d0d0d"/>
<line x1="320.06" y1="131" x2="320.06" y2="140.5" stroke="#0d0d0d" stroke-width="0.8" opacity="0.85"/>
<rect x="318.96" y="137.4" width="2.2" height="1.2" fill="#0d0d0d"/>
<line x1="322.88" y1="138" x2="322.88" y2="161.75" stroke="#0d0d0d" stroke-width="0.8" opacity="0.85"/>
<rect x="321.78" y="138" width="2.2" height="18" fill="#0d0d0d"/>
<line x1="325.69" y1="155.5" x2="325.69" y2="163" stroke="#0d0d0d" stroke-width="0.8" opacity="0.85"/>
<rect x="324.59" y="155.5" width="2.2" height="1.9" fill="#0d0d0d"/>
<line x1="328.51" y1="150.5" x2="328.51" y2="161.75" stroke="#0d0d0d" stroke-width="0.8" opacity="0.85"/>
<rect x="327.41" y="156" width="2.2" height="5.75" fill="#0d0d0d"/>
<line x1="331.33" y1="154.25" x2="331.33" y2="164.5" stroke="#0d0d0d" stroke-width="0.8" opacity="0.85"/>
<rect x="330.23" y="161.75" width="2.2" height="2.75" fill="#0d0d0d"/>
<line x1="334.15" y1="151" x2="334.15" y2="164" stroke="#1d6e56" stroke-width="0.8" opacity="0.85"/>
<rect x="333.05" y="151" width="2.2" height="13" fill="#1d6e56"/>
<line x1="336.97" y1="148" x2="336.97" y2="156.75" stroke="#0d0d0d" stroke-width="0.8" opacity="0.85"/>
<rect x="335.87" y="151" width="2.2" height="2" fill="#0d0d0d"/>
<line x1="339.79" y1="153" x2="339.79" y2="159.25" stroke="#0d0d0d" stroke-width="0.8" opacity="0.85"/>
<rect x="338.69" y="153" width="2.2" height="6.25" fill="#0d0d0d"/>
<line x1="342.61" y1="148.6" x2="342.61" y2="159.25" stroke="#0d0d0d" stroke-width="0.8" opacity="0.85"/>
<rect x="341.51" y="157.4" width="2.2" height="1.85" fill="#0d0d0d"/>
<line x1="345.43" y1="155.5" x2="345.43" y2="158" stroke="#1d6e56" stroke-width="0.8" opacity="0.85"/>
<rect x="344.33" y="156.75" width="2.2" height="1.25" fill="#1d6e56"/>
<line x1="348.24" y1="144" x2="348.24" y2="157.4" stroke="#1d6e56" stroke-width="0.8" opacity="0.85"/>
<rect x="347.14" y="149" width="2.2" height="8.4" fill="#1d6e56"/>
<line x1="351.06" y1="135" x2="351.06" y2="149" stroke="#1d6e56" stroke-width="0.8" opacity="0.85"/>
<rect x="349.96" y="138.6" width="2.2" height="10.4" fill="#1d6e56"/>
<line x1="353.88" y1="130.5" x2="353.88" y2="140.5" stroke="#0d0d0d" stroke-width="0.8" opacity="0.85"/>
<rect x="352.78" y="138" width="2.2" height="2.5" fill="#0d0d0d"/>
<line x1="356.7" y1="131.75" x2="356.7" y2="140.5" stroke="#1d6e56" stroke-width="0.8" opacity="0.85"/>
<rect x="355.6" y="137.4" width="2.2" height="3.1" fill="#1d6e56"/>
<line x1="359.52" y1="128.6" x2="359.52" y2="139.25" stroke="#1d6e56" stroke-width="0.8" opacity="0.85"/>
<rect x="358.42" y="130" width="2.2" height="6.75" fill="#1d6e56"/>
<line x1="362.34" y1="118.6" x2="362.34" y2="130" stroke="#1d6e56" stroke-width="0.8" opacity="0.85"/>
<rect x="361.24" y="121" width="2.2" height="9" fill="#1d6e56"/>
<line x1="365.16" y1="112.4" x2="365.16" y2="126.75" stroke="#1d6e56" stroke-width="0.8" opacity="0.85"/>
<rect x="364.06" y="120" width="2.2" height="1.75" fill="#1d6e56"/>
<line x1="367.97" y1="120" x2="367.97" y2="131" stroke="#0d0d0d" stroke-width="0.8" opacity="0.85"/>
<rect x="366.87" y="120" width="2.2" height="11" fill="#0d0d0d"/>
<line x1="370.79" y1="126" x2="370.79" y2="138.6" stroke="#0d0d0d" stroke-width="0.8" opacity="0.85"/>
<rect x="369.69" y="131" width="2.2" height="4" fill="#0d0d0d"/>
<line x1="373.61" y1="128" x2="373.61" y2="137.4" stroke="#1d6e56" stroke-width="0.8" opacity="0.85"/>
<rect x="372.51" y="130.5" width="2.2" height="3.1" fill="#1d6e56"/>
<line x1="376.43" y1="121.75" x2="376.43" y2="135" stroke="#1d6e56" stroke-width="0.8" opacity="0.85"/>
<rect x="375.33" y="123.6" width="2.2" height="6.9" fill="#1d6e56"/>
<line x1="379.25" y1="118.6" x2="379.25" y2="126" stroke="#1d6e56" stroke-width="0.8" opacity="0.85"/>
<rect x="378.15" y="123" width="2.2" height="1.25" fill="#1d6e56"/>
<line x1="382.07" y1="124" x2="382.07" y2="135.5" stroke="#0d0d0d" stroke-width="0.8" opacity="0.85"/>
<rect x="380.97" y="124" width="2.2" height="11.5" fill="#0d0d0d"/>
<line x1="384.89" y1="133.6" x2="384.89" y2="136.75" stroke="#0d0d0d" stroke-width="0.8" opacity="0.85"/>
<rect x="383.79" y="135.5" width="2.2" height="1.25" fill="#0d0d0d"/>
<line x1="387.71" y1="133" x2="387.71" y2="139.25" stroke="#0d0d0d" stroke-width="0.8" opacity="0.85"/>
<rect x="386.61" y="136" width="2.2" height="1.4" fill="#0d0d0d"/>
<line x1="390.52" y1="137.5" x2="390.52" y2="172" stroke="#0d0d0d" stroke-width="0.8" opacity="0.85"/>
<rect x="389.42" y="137.5" width="2.2" height="14.5" fill="#0d0d0d"/>
<line x1="393.34" y1="148" x2="393.34" y2="158.5" stroke="#0d0d0d" stroke-width="0.8" opacity="0.85"/>
<rect x="392.24" y="152" width="2.2" height="3.6" fill="#0d0d0d"/>
<line x1="396.16" y1="135" x2="396.16" y2="158.75" stroke="#1d6e56" stroke-width="0.8" opacity="0.85"/>
<rect x="395.06" y="143" width="2.2" height="12.6" fill="#1d6e56"/>
<line x1="398.98" y1="141.25" x2="398.98" y2="167" stroke="#0d0d0d" stroke-width="0.8" opacity="0.85"/>
<rect x="397.88" y="142.5" width="2.2" height="24.5" fill="#0d0d0d"/>
<line x1="401.8" y1="160.6" x2="401.8" y2="171" stroke="#1d6e56" stroke-width="0.8" opacity="0.85"/>
<rect x="400.7" y="160.6" width="2.2" height="6.4" fill="#1d6e56"/>
<line x1="404.62" y1="156.25" x2="404.62" y2="162" stroke="#1d6e56" stroke-width="0.8" opacity="0.85"/>
<rect x="403.52" y="157.5" width="2.2" height="3.1" fill="#1d6e56"/>
<line x1="407.44" y1="150" x2="407.44" y2="161.25" stroke="#1d6e56" stroke-width="0.8" opacity="0.85"/>
<rect x="406.34" y="150" width="2.2" height="8" fill="#1d6e56"/>
<line x1="410.26" y1="143.75" x2="410.26" y2="150.25" stroke="#0d0d0d" stroke-width="0.8" opacity="0.85"/>
<rect x="409.16" y="149" width="2.2" height="1.25" fill="#0d0d0d"/>
<line x1="413.07" y1="145" x2="413.07" y2="156.25" stroke="#0d0d0d" stroke-width="0.8" opacity="0.85"/>
<rect x="411.97" y="149.4" width="2.2" height="3.6" fill="#0d0d0d"/>
<line x1="415.89" y1="140" x2="415.89" y2="156.25" stroke="#1d6e56" stroke-width="0.8" opacity="0.85"/>
<rect x="414.79" y="140" width="2.2" height="13" fill="#1d6e56"/>
<line x1="418.71" y1="122" x2="418.71" y2="140" stroke="#1d6e56" stroke-width="0.8" opacity="0.85"/>
<rect x="417.61" y="130.6" width="2.2" height="9.4" fill="#1d6e56"/>
<line x1="421.53" y1="123.75" x2="421.53" y2="131" stroke="#0d0d0d" stroke-width="0.8" opacity="0.85"/>
<rect x="420.43" y="129.4" width="2.2" height="1.6" fill="#0d0d0d"/>
<line x1="424.35" y1="129.4" x2="424.35" y2="140.6" stroke="#0d0d0d" stroke-width="0.8" opacity="0.85"/>
<rect x="423.25" y="129.4" width="2.2" height="8.1" fill="#0d0d0d"/>
<line x1="427.17" y1="126" x2="427.17" y2="138.75" stroke="#1d6e56" stroke-width="0.8" opacity="0.85"/>
<rect x="426.07" y="132.5" width="2.2" height="4.5" fill="#1d6e56"/>
<line x1="429.99" y1="128" x2="429.99" y2="138" stroke="#1d6e56" stroke-width="0.8" opacity="0.85"/>
<rect x="428.89" y="133" width="2.2" height="5" fill="#1d6e56"/>
<line x1="432.81" y1="135" x2="432.81" y2="151.25" stroke="#0d0d0d" stroke-width="0.8" opacity="0.85"/>
<rect x="431.7" y="135" width="2.2" height="16.25" fill="#0d0d0d"/>
<line x1="435.62" y1="143.75" x2="435.62" y2="151.25" stroke="#0d0d0d" stroke-width="0.8" opacity="0.85"/>
<rect x="434.52" y="149.4" width="2.2" height="1.85" fill="#0d0d0d"/>
<line x1="438.44" y1="149.4" x2="438.44" y2="161" stroke="#0d0d0d" stroke-width="0.8" opacity="0.85"/>
<rect x="437.34" y="149.4" width="2.2" height="8.6" fill="#0d0d0d"/>
<line x1="441.26" y1="153.75" x2="441.26" y2="360.5" stroke="#0d0d0d" stroke-width="1.25" opacity="0.85"/>
<rect x="440.16" y="157.5" width="2.2" height="60.5" fill="#0d0d0d"/>
<line x1="444.08" y1="198.75" x2="444.08" y2="227.5" stroke="#1d6e56" stroke-width="0.8" opacity="0.85"/>
<rect x="442.98" y="215" width="2.2" height="3" fill="#1d6e56"/>
<line x1="446.9" y1="187.5" x2="446.9" y2="223.75" stroke="#1d6e56" stroke-width="0.8" opacity="0.85"/>
<rect x="445.8" y="194.4" width="2.2" height="20.6" fill="#1d6e56"/>
<line x1="449.72" y1="178" x2="449.72" y2="194.4" stroke="#1d6e56" stroke-width="0.8" opacity="0.85"/>
<rect x="448.62" y="183" width="2.2" height="11.4" fill="#1d6e56"/>
<line x1="452.54" y1="183" x2="452.54" y2="213.75" stroke="#0d0d0d" stroke-width="0.8" opacity="0.85"/>
<rect x="451.44" y="183" width="2.2" height="15.75" fill="#0d0d0d"/>
<line x1="455.35" y1="192" x2="455.35" y2="215.6" stroke="#0d0d0d" stroke-width="0.8" opacity="0.85"/>
<rect x="454.25" y="198" width="2.2" height="14" fill="#0d0d0d"/>
<line x1="458.17" y1="203" x2="458.17" y2="227.5" stroke="#0d0d0d" stroke-width="0.8" opacity="0.85"/>
<rect x="457.07" y="211" width="2.2" height="12.75" fill="#0d0d0d"/>
<line x1="460.99" y1="214" x2="460.99" y2="245" stroke="#0d0d0d" stroke-width="0.8" opacity="0.85"/>
<rect x="459.89" y="223.75" width="2.2" height="5" fill="#0d0d0d"/>
<line x1="463.81" y1="214.4" x2="463.81" y2="228.75" stroke="#1d6e56" stroke-width="0.8" opacity="0.85"/>
<rect x="462.71" y="218.75" width="2.2" height="10" fill="#1d6e56"/>
<line x1="466.63" y1="210" x2="466.63" y2="221.25" stroke="#1d6e56" stroke-width="0.8" opacity="0.85"/>
<rect x="465.53" y="213.75" width="2.2" height="5" fill="#1d6e56"/>
<line x1="469.45" y1="191" x2="469.45" y2="218" stroke="#1d6e56" stroke-width="0.8" opacity="0.85"/>
<rect x="468.35" y="200" width="2.2" height="14" fill="#1d6e56"/>
<line x1="472.27" y1="193.75" x2="472.27" y2="212" stroke="#0d0d0d" stroke-width="0.8" opacity="0.85"/>
<rect x="471.17" y="200" width="2.2" height="10" fill="#0d0d0d"/>
<line x1="475.09" y1="207.5" x2="475.09" y2="223.75" stroke="#0d0d0d" stroke-width="0.8" opacity="0.85"/>
<rect x="473.99" y="210" width="2.2" height="8.75" fill="#0d0d0d"/>
<line x1="477.9" y1="209.4" x2="477.9" y2="221.25" stroke="#1d6e56" stroke-width="0.8" opacity="0.85"/>
<rect x="476.8" y="213.5" width="2.2" height="5.25" fill="#1d6e56"/>
<line x1="480.72" y1="197" x2="480.72" y2="213.75" stroke="#1d6e56" stroke-width="0.8" opacity="0.85"/>
<rect x="479.62" y="197" width="2.2" height="16.75" fill="#1d6e56"/>
<line x1="483.54" y1="177.5" x2="483.54" y2="197.5" stroke="#1d6e56" stroke-width="0.8" opacity="0.85"/>
<rect x="482.44" y="185.6" width="2.2" height="11.9" fill="#1d6e56"/>
<line x1="486.36" y1="177" x2="486.36" y2="185" stroke="#1d6e56" stroke-width="0.8" opacity="0.85"/>
<rect x="485.26" y="178.75" width="2.2" height="6.25" fill="#1d6e56"/>
<line x1="489.18" y1="171" x2="489.18" y2="180.6" stroke="#0d0d0d" stroke-width="0.8" opacity="0.85"/>
<rect x="488.08" y="178.75" width="2.2" height="1.85" fill="#0d0d0d"/>
<line x1="492" y1="172.5" x2="492" y2="188.75" stroke="#0d0d0d" stroke-width="0.8" opacity="0.85"/>
<rect x="490.9" y="180.6" width="2.2" height="3.8" fill="#0d0d0d"/>
<line x1="494.82" y1="176" x2="494.82" y2="192" stroke="#0d0d0d" stroke-width="0.8" opacity="0.85"/>
<rect x="493.72" y="184.4" width="2.2" height="7.6" fill="#0d0d0d"/>
<line x1="497.64" y1="186" x2="497.64" y2="216" stroke="#0d0d0d" stroke-width="0.8" opacity="0.85"/>
<rect x="496.54" y="191" width="2.2" height="17" fill="#0d0d0d"/>
<line x1="500.45" y1="192" x2="500.45" y2="208" stroke="#1d6e56" stroke-width="0.8" opacity="0.85"/>
<rect x="499.35" y="198" width="2.2" height="10" fill="#1d6e56"/>
<line x1="503.27" y1="196" x2="503.27" y2="215" stroke="#0d0d0d" stroke-width="0.8" opacity="0.85"/>
<rect x="502.17" y="196" width="2.2" height="2" fill="#0d0d0d"/>
<line x1="506.09" y1="191" x2="506.09" y2="201.25" stroke="#1d6e56" stroke-width="0.8" opacity="0.85"/>
<rect x="504.99" y="194.4" width="2.2" height="3.6" fill="#1d6e56"/>
<line x1="508.91" y1="194.4" x2="508.91" y2="232" stroke="#0d0d0d" stroke-width="0.8" opacity="0.85"/>
<rect x="507.81" y="194.4" width="2.2" height="31.6" fill="#0d0d0d"/>
<line x1="511.73" y1="218" x2="511.73" y2="265" stroke="#0d0d0d" stroke-width="0.8" opacity="0.85"/>
<rect x="510.63" y="227" width="2.2" height="18" fill="#0d0d0d"/>
<line x1="514.55" y1="217" x2="514.55" y2="259" stroke="#1d6e56" stroke-width="0.8" opacity="0.85"/>
<rect x="513.45" y="221" width="2.2" height="24" fill="#1d6e56"/>
<line x1="517.37" y1="211" x2="517.37" y2="242.5" stroke="#0d0d0d" stroke-width="0.8" opacity="0.85"/>
<rect x="516.27" y="222" width="2.2" height="20.5" fill="#0d0d0d"/>
<line x1="520.18" y1="218" x2="520.18" y2="251" stroke="#1d6e56" stroke-width="0.8" opacity="0.85"/>
<rect x="519.08" y="226" width="2.2" height="16.5" fill="#1d6e56"/>
<line x1="523" y1="225.6" x2="523" y2="237.5" stroke="#0d0d0d" stroke-width="0.8" opacity="0.85"/>
<rect x="521.9" y="225.6" width="2.2" height="5" fill="#0d0d0d"/>
<line x1="525.82" y1="213.75" x2="525.82" y2="237.5" stroke="#1d6e56" stroke-width="0.8" opacity="0.85"/>
<rect x="524.72" y="218" width="2.2" height="12.6" fill="#1d6e56"/>
<line x1="528.64" y1="188" x2="528.64" y2="221.25" stroke="#1d6e56" stroke-width="0.8" opacity="0.85"/>
<rect x="527.54" y="195" width="2.2" height="23" fill="#1d6e56"/>
<line x1="531.46" y1="189.4" x2="531.46" y2="217.5" stroke="#0d0d0d" stroke-width="0.8" opacity="0.85"/>
<rect x="530.36" y="195" width="2.2" height="19.4" fill="#0d0d0d"/>
<line x1="534.28" y1="205.6" x2="534.28" y2="225" stroke="#0d0d0d" stroke-width="0.8" opacity="0.85"/>
<rect x="533.18" y="214" width="2.2" height="1.5" fill="#0d0d0d"/>
<line x1="537.1" y1="195" x2="537.1" y2="232" stroke="#0d0d0d" stroke-width="0.8" opacity="0.85"/>
<rect x="536" y="215" width="2.2" height="10" fill="#0d0d0d"/>
<line x1="539.92" y1="224.4" x2="539.92" y2="238" stroke="#0d0d0d" stroke-width="0.8" opacity="0.85"/>
<rect x="538.82" y="224.4" width="2.2" height="13.6" fill="#0d0d0d"/>
<line x1="542.73" y1="228" x2="542.73" y2="241.25" stroke="#0d0d0d" stroke-width="0.8" opacity="0.85"/>
<rect x="541.63" y="237.5" width="2.2" height="1.25" fill="#0d0d0d"/>
<line x1="545.55" y1="232" x2="545.55" y2="242" stroke="#0d0d0d" stroke-width="0.8" opacity="0.85"/>
<rect x="544.45" y="238" width="2.2" height="4" fill="#0d0d0d"/>
<line x1="548.37" y1="228" x2="548.37" y2="257.5" stroke="#0d0d0d" stroke-width="0.8" opacity="0.85"/>
<rect x="547.27" y="242" width="2.2" height="8" fill="#0d0d0d"/>
<line x1="551.19" y1="238" x2="551.19" y2="261.25" stroke="#1d6e56" stroke-width="0.8" opacity="0.85"/>
<rect x="550.09" y="241" width="2.2" height="9" fill="#1d6e56"/>
<line x1="554.01" y1="241" x2="554.01" y2="273.75" stroke="#0d0d0d" stroke-width="0.8" opacity="0.85"/>
<rect x="552.91" y="241" width="2.2" height="17" fill="#0d0d0d"/>
<line x1="556.83" y1="252.5" x2="556.83" y2="278" stroke="#0d0d0d" stroke-width="0.8" opacity="0.85"/>
<rect x="555.73" y="259" width="2.2" height="19" fill="#0d0d0d"/>
<line x1="559.65" y1="272.5" x2="559.65" y2="309" stroke="#0d0d0d" stroke-width="0.8" opacity="0.85"/>
<rect x="558.55" y="278" width="2.2" height="8" fill="#0d0d0d"/>
<line x1="562.47" y1="283.75" x2="562.47" y2="297.5" stroke="#0d0d0d" stroke-width="0.8" opacity="0.85"/>
<rect x="561.37" y="283.75" width="2.2" height="2.25" fill="#0d0d0d"/>
<line x1="565.28" y1="264" x2="565.28" y2="286" stroke="#1d6e56" stroke-width="0.8" opacity="0.85"/>
<rect x="564.18" y="269" width="2.2" height="17" fill="#1d6e56"/>
<line x1="568.1" y1="235" x2="568.1" y2="272.5" stroke="#1d6e56" stroke-width="0.8" opacity="0.85"/>
<rect x="567" y="239" width="2.2" height="30" fill="#1d6e56"/>
<line x1="570.92" y1="235.6" x2="570.92" y2="245" stroke="#0d0d0d" stroke-width="0.8" opacity="0.85"/>
<rect x="569.82" y="240" width="2.2" height="5" fill="#0d0d0d"/>
<line x1="573.74" y1="235.6" x2="573.74" y2="246.25" stroke="#1d6e56" stroke-width="0.8" opacity="0.85"/>
<rect x="572.64" y="240.6" width="2.2" height="2.4" fill="#1d6e56"/>
<line x1="576.56" y1="238" x2="576.56" y2="247.5" stroke="#0d0d0d" stroke-width="0.8" opacity="0.85"/>
<rect x="575.46" y="240" width="2.2" height="4.4" fill="#0d0d0d"/>
<line x1="579.38" y1="236.25" x2="579.38" y2="247" stroke="#0d0d0d" stroke-width="0.8" opacity="0.85"/>
<rect x="578.28" y="244" width="2.2" height="1" fill="#0d0d0d"/>
</g>
<rect x="440.11" y="330.6" width="2.3" height="29.9" fill="#f27f80" opacity="0.45"/>
<line x1="201" y1="71" x2="675.5" y2="201.75" stroke="#151515" stroke-width="1.7"/>
<line x1="207" y1="155.5" x2="675.5" y2="291.25" stroke="#151515" stroke-width="1.7"/>
<line x1="441" y1="245.3" x2="675" y2="245.3" stroke="#333" stroke-width="1.9"/>
<polyline points="556.5,202.2 593,293.5 613,228 629.5,245 642.5,190 670,75.5" fill="none" stroke="#111" stroke-width="1.3" stroke-linejoin="miter"/>
<polyline points="662.5,79 670,75.2 673.8,83.8" fill="none" stroke="#111" stroke-width="1.2"/>
<rect x="193.6" y="73.7" width="532" height="11.2" fill="#089981" fill-opacity="0.5" stroke="#27423c" stroke-width="1.4"/>
<rect x="77.2" y="278.3" width="618" height="16" fill="#2962ff" fill-opacity="0.5" stroke="#10183f" stroke-width="1.35"/>
<line x1="9.4" y1="417.9" x2="764" y2="417.9" stroke="#3fae96" stroke-width="1.5" stroke-dasharray="5 6.7"/>
<polygon points="183.2,417.8 183.75,417 187.5,414.6 193,411.5 196.25,414.6 200,410.25 201.9,409 205,411.5 210,410.9 215,410 216.9,416.5 216.95,417.8" fill="#43b59c" opacity="0.22"/>
<polyline points="9.4,433.4 18.75,431.5 31.25,430.25 41.25,428.75 47.5,429.6 56.25,432.75 66.25,435.9 75,438.4 81.25,439.6 87.5,440.9 95,440.5 100,440.9 107.5,439.25 116.25,438.75 125,438.4 137.5,440.25 150,439 162.5,437 175,434.6 181.25,432 187.5,429 193.75,425.25 200,422.5 205,419.6 210,416.5 215,414.6 220,414 227.5,415.9 235,419 242.5,424 250,429 257.5,432 265,433.4 275,433 285,433.4 295,434.6 300,434.8 307.5,435.9 315,437 322.5,438.4 330,439 337.5,439.6 345,440.25 352.5,439.6 360,438.4 367.5,435.9 375,434 382.5,433 390,433.75 400,435.9 406.25,437.75 412.5,439 420,438.75 427.5,437.75 435,437 442.5,438.4 450,440.25 457.5,442.75 465,444.6 472.5,445.9 480,445.25 487.5,443.4 495,441.5 500,439.8 507.5,438.4 515,439 525,440.25 535,440.9 545,441.25 555,441.75 565,442.75 572.5,443 579.4,442.75" fill="none" stroke="#f0d84a" stroke-width="1.3" stroke-linejoin="round"/>
<polyline points="9.4,423.4 12.5,427.75 15.6,423.4 18.75,422 21.9,425.25 23.75,430.9 26.9,432 29.4,433.4 32.5,430.9 35.6,433.4 38.75,434 41.9,431.5 43.75,432 46.9,437.75 50,436.5 53,435.9 56.25,437 59.4,437.75 62.5,439.6 66.25,444.6 68.75,443.4 72.5,442 75,440.9 77.5,439 80,440.9 83,445.25 86.25,441.5 89.4,437.75 92.5,434 95,432 100,435.9 103,440.25 107.5,442 111.25,440.9 114.4,436.5 117.5,440.25 122.5,439.6 126.25,443.4 130.6,447 133.75,437.75 137.5,435.9 140,436.5 143,440.9 147.5,435.9 153.75,432.75 156.9,437 161.25,432 166.25,435.25 171.25,431.5 175,430.9 178.75,425.9 183.75,417 187.5,414.6 193,411.5 196.25,414.6 200,410.25 201.9,409 205,411.5 210,410.9 215,410 216.9,416.5 218.75,426.5 221.9,428.4 226.25,428.4 229.4,426.25 233,430.25 236.9,430.9 241.25,435.25 245,439 246.9,442.75 249.4,436.5 252.5,433.4 255.6,436.5 258,434 260.6,428.4 263.75,429 267.5,430.9 271.9,432.75 275,430.25 277.5,430.25 280,435.25 285,435.9 290,435.9 293,437.75 295,442.75 298,440.25 300,442 302.5,437 306.25,436.5 309.4,437.75 311.9,440.9 314.4,437 317.5,437.75 320.6,439.6 323,441.5 326.9,442 330.6,443.4 333.75,440.25 337.5,440.25 340,441.5 343.75,440.9 346.9,438.4 351.25,434 353.75,434.6 357.5,432 361.25,429.6 364.4,428.4 367.5,432.75 370.6,434.6 373.75,432.75 376.9,430.9 379.4,431.5 381.9,435.25 385,436.5 387.5,436.5 390,440.9 393,443.4 395.6,438.4 398,442.75 400,444.6 403.75,442 407.5,439.6 410.6,439 412.5,439.6 416.25,432.75 418.75,430.5 421.25,430.9 424.4,434.6 429.4,434 432.5,439.6 435.6,439 438,442 441.5,452 445,449 447.5,444.6 450,443.4 453.75,446.5 457.5,449 461.25,449 465,446.5 469.4,442 473.75,444.6 477.5,443.4 481.25,437.75 486.25,434 491.25,435.25 495,437.75 497.5,441.25 500,439 505.6,437.75 508,442.75 511.9,447.75 515,442 517.5,444.6 520.6,441.25 523,442 525.6,439.6 528.5,434.25 531.25,437.75 534.4,438 537.5,440.9 540,442 543.75,442 548,444.6 550.6,442 553.75,444.6 557.5,448.4 562.5,449 565,444.6 568,437 570.6,437.75 573.75,437 576.9,438 579.4,438" fill="none" stroke="#6258b8" stroke-width="1.1" stroke-linejoin="round"/>
<defs><clipPath id="fc1"><ellipse cx="587.4" cy="393.2" rx="3.7" ry="4.9"/></clipPath><clipPath id="fc2"><ellipse cx="594.4" cy="393.2" rx="3.7" ry="4.9"/></clipPath></defs>
<ellipse cx="594.4" cy="393.2" rx="5.1" ry="6.7" fill="#fff" stroke="#e0506a" stroke-width="1"/>
<g clip-path="url(#fc2)">
<rect x="589.9" y="389" width="9" height="1.2" fill="#ef6f80"/>
<rect x="589.9" y="391.2" width="9" height="1.2" fill="#ef6f80"/>
<rect x="589.9" y="393.4" width="9" height="1.2" fill="#ef6f80"/>
<rect x="589.9" y="395.6" width="9" height="1.2" fill="#ef6f80"/>
<rect x="589.9" y="397.6" width="9" height="1.2" fill="#ef6f80"/>
<rect x="590.5" y="388" width="4.6" height="6.6" fill="#3b8ff2"/>
</g>
<ellipse cx="587.4" cy="393.2" rx="5.1" ry="6.7" fill="#fff" stroke="#e0506a" stroke-width="1"/>
<g clip-path="url(#fc1)">
<rect x="582.9" y="389" width="9" height="1.2" fill="#ef6f80"/>
<rect x="582.9" y="391.2" width="9" height="1.2" fill="#ef6f80"/>
<rect x="582.9" y="393.4" width="9" height="1.2" fill="#ef6f80"/>
<rect x="582.9" y="395.6" width="9" height="1.2" fill="#ef6f80"/>
<rect x="582.9" y="397.6" width="9" height="1.2" fill="#ef6f80"/>
<rect x="583.5" y="388" width="4.6" height="6.6" fill="#3b8ff2"/>
</g>
<defs><filter id="idf" x="0" y="0" width="800" height="450" filterUnits="userSpaceOnUse" color-interpolation-filters="sRGB"><feColorMatrix type="matrix" values="1 0 0 0 0  0 1 0 0 0  0 0 1 0 0  0 0 0 1 0"/></filter></defs>
<g filter="url(#idf)">
<text x="13.1" y="21.1" font-size="7.6" fill="#151515" textLength="95" lengthAdjust="spacingAndGlyphs" stroke="#151515" stroke-width="0.22">XRP / U.S. Dollar · 1D · Bitstamp</text>
<text x="112.5" y="21.1" font-size="7.6" fill="#151515" textLength="28.5" lengthAdjust="spacingAndGlyphs" stroke="#151515" stroke-width="0.22">O2.19944</text>
<text x="145" y="21.1" font-size="7.6" fill="#151515" textLength="29" lengthAdjust="spacingAndGlyphs" stroke="#151515" stroke-width="0.22">H2.24910</text>
<text x="178" y="21.1" font-size="7.6" fill="#151515" textLength="28" lengthAdjust="spacingAndGlyphs" stroke="#151515" stroke-width="0.22">L2.16698</text>
<text x="210" y="21.1" font-size="7.6" fill="#151515" textLength="27.5" lengthAdjust="spacingAndGlyphs" stroke="#151515" stroke-width="0.22">C2.19516</text>
<text x="242.5" y="21.1" font-size="7.6" fill="#151515" textLength="58.5" lengthAdjust="spacingAndGlyphs" stroke="#151515" stroke-width="0.22">−0.00493 (−0.22%)</text>
<text x="13.1" y="32.1" font-size="7.6" fill="#151515" textLength="41" lengthAdjust="spacingAndGlyphs" stroke="#151515" stroke-width="0.22">Vol · XRP (14)</text>
<text x="57.75" y="32.1" font-size="7.6" fill="#e2606e" textLength="19.7" lengthAdjust="spacingAndGlyphs" stroke="#e2606e" stroke-width="0.22">4.55 M</text>
<text x="81.9" y="32.1" font-size="7.6" fill="#3f6be0" textLength="23.5" lengthAdjust="spacingAndGlyphs" stroke="#3f6be0" stroke-width="0.22">26.69 M</text>
<text x="13.1" y="43.4" font-size="7.6" fill="#151515" textLength="51.3" lengthAdjust="spacingAndGlyphs" stroke="#151515" stroke-width="0.22">EMA (200, close)</text>
<text x="68.75" y="43.4" font-size="7.6" fill="#f0a93b" textLength="23.5" lengthAdjust="spacingAndGlyphs" stroke="#f0a93b" stroke-width="0.22">2.51759</text>
<text x="13.1" y="416.1" font-size="7.4" fill="#151515" textLength="42" lengthAdjust="spacingAndGlyphs" stroke="#151515" stroke-width="0.22">RSI (14, close)</text>
<text x="60" y="416.1" font-size="7.4" fill="#6a5fc0" textLength="15.6" lengthAdjust="spacingAndGlyphs" stroke="#6a5fc0" stroke-width="0.22">47.07</text>
<text x="80" y="416.1" font-size="7.4" fill="#ecd24e" textLength="16" lengthAdjust="spacingAndGlyphs" stroke="#ecd24e" stroke-width="0.22">40.82</text>
<text x="771.3" y="22.3" font-size="8" fill="#2a2a2a" textLength="12.7" lengthAdjust="spacingAndGlyphs" stroke="#2a2a2a" stroke-width="0.15">USD</text>
<text x="769.2" y="53.4" font-size="8" fill="#333333" textLength="25.8" lengthAdjust="spacingAndGlyphs" stroke="#333333" stroke-width="0.15">3.80000</text>
<text x="769.2" y="92.9" font-size="8" fill="#333333" textLength="25.8" lengthAdjust="spacingAndGlyphs" stroke="#333333" stroke-width="0.15">3.40000</text>
<text x="769.2" y="114.4" font-size="8" fill="#333333" textLength="25.8" lengthAdjust="spacingAndGlyphs" stroke="#333333" stroke-width="0.15">3.20000</text>
<text x="769.2" y="136.4" font-size="8" fill="#333333" textLength="25.8" lengthAdjust="spacingAndGlyphs" stroke="#333333" stroke-width="0.15">3.00000</text>
<text x="769.2" y="161.4" font-size="8" fill="#333333" textLength="25.8" lengthAdjust="spacingAndGlyphs" stroke="#333333" stroke-width="0.15">2.80000</text>
<text x="769.2" y="187.4" font-size="8" fill="#333333" textLength="25.8" lengthAdjust="spacingAndGlyphs" stroke="#333333" stroke-width="0.15">2.60000</text>
<text x="769.2" y="216.15" font-size="8" fill="#333333" textLength="25.8" lengthAdjust="spacingAndGlyphs" stroke="#333333" stroke-width="0.15">2.40000</text>
<text x="769.2" y="238" font-size="8" fill="#333333" textLength="25.8" lengthAdjust="spacingAndGlyphs" stroke="#333333" stroke-width="0.15">2.25000</text>
<text x="769.2" y="263" font-size="8" fill="#333333" textLength="25.8" lengthAdjust="spacingAndGlyphs" stroke="#333333" stroke-width="0.15">2.10000</text>
<text x="769.2" y="289.3" font-size="8" fill="#333333" textLength="25.8" lengthAdjust="spacingAndGlyphs" stroke="#333333" stroke-width="0.15">1.95000</text>
<text x="769.2" y="317.4" font-size="8" fill="#333333" textLength="25.8" lengthAdjust="spacingAndGlyphs" stroke="#333333" stroke-width="0.15">1.80000</text>
<text x="769.2" y="337.65" font-size="8" fill="#333333" textLength="25.8" lengthAdjust="spacingAndGlyphs" stroke="#333333" stroke-width="0.15">1.70000</text>
<text x="769.2" y="379.3" font-size="8" fill="#333333" textLength="25.8" lengthAdjust="spacingAndGlyphs" stroke="#333333" stroke-width="0.15">1.51000</text>
<text x="769.2" y="401.4" font-size="8" fill="#333333" textLength="25.8" lengthAdjust="spacingAndGlyphs" stroke="#333333" stroke-width="0.15">1.42000</text>
<text x="769.2" y="416.8" font-size="8" fill="#333333" textLength="17.2" lengthAdjust="spacingAndGlyphs" stroke="#333333" stroke-width="0.15">80.00</text>
<rect x="764.4" y="191.3" width="32.9" height="9.8" fill="#f9a11b"/>
<text x="769.2" y="198.85" font-size="8" fill="#3a2206" textLength="25.8" lengthAdjust="spacingAndGlyphs" stroke="#3a2206" stroke-width="0.15">2.51759</text>
<rect x="733.8" y="239" width="29.7" height="10.4" fill="#0b0b0b" rx="1"/>
<text x="736.2" y="247.1" font-size="8" fill="#ffffff" textLength="25.2" lengthAdjust="spacingAndGlyphs" stroke="#ffffff" stroke-width="0.2">XRPUSD</text>
<rect x="764.4" y="239" width="35" height="19.6" fill="#0b0b0b"/>
<text x="769.2" y="247" font-size="8" fill="#ffffff" textLength="25.8" lengthAdjust="spacingAndGlyphs" stroke="#ffffff" stroke-width="0.2">2.19516</text>
<text x="769.6" y="256.1" font-size="8" fill="#e8e8e8" textLength="26.6" lengthAdjust="spacingAndGlyphs" stroke="#e8e8e8" stroke-width="0.15">11:27:53</text>
<rect x="764.4" y="349" width="31.6" height="10.8" fill="#2c62f0"/>
<text x="769.2" y="357.1" font-size="8" fill="#ffffff" textLength="23.6" lengthAdjust="spacingAndGlyphs" stroke="#ffffff" stroke-width="0.15">26.69 M</text>
<rect x="764.4" y="388" width="27.5" height="10" fill="#ec4a56"/>
<text x="769.2" y="395.6" font-size="8" fill="#ffffff" textLength="19.6" lengthAdjust="spacingAndGlyphs" stroke="#ffffff" stroke-width="0.15">4.55 M</text>
<rect x="764.4" y="433.4" width="25" height="10.4" fill="#7c55c8"/>
<text x="769.2" y="441.1" font-size="8" fill="#ffffff" textLength="16.6" lengthAdjust="spacingAndGlyphs" stroke="#ffffff" stroke-width="0.15">47.07</text>
<rect x="764.4" y="443.8" width="25" height="8" fill="#f6da2c"/>
<text x="769.2" y="451.6" font-size="8" fill="#3a3000" textLength="16.6" lengthAdjust="spacingAndGlyphs" stroke="#3a3000" stroke-width="0.15">40.82</text>
</g>
</svg>
</body></html>
